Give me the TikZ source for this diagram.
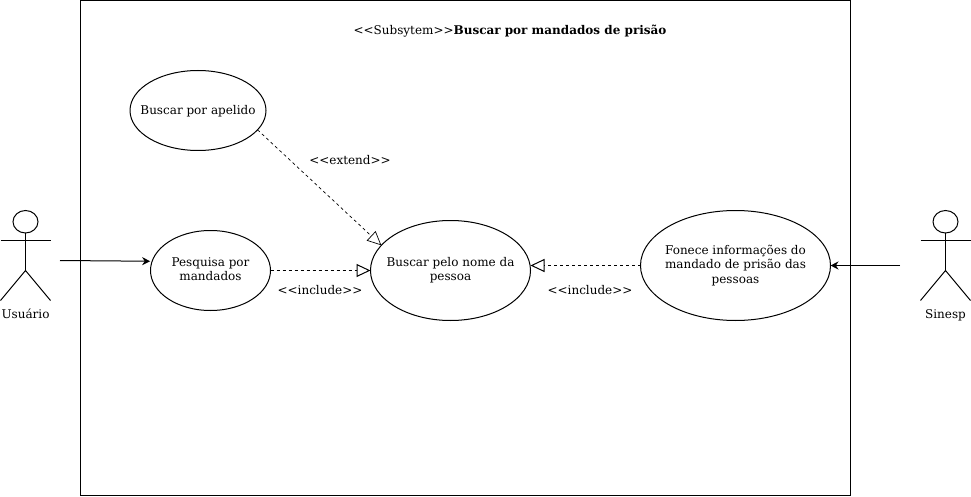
\documentclass[tikz,border=0pt]{standalone}
\usepackage{fontspec}
\setmainfont{DejaVu Serif}
\usetikzlibrary{arrows.meta,positioning,shapes.geometric}
\tikzset{
    caixaTexto/.style={align=center,
        execute at begin node={\rule{0pt}{12pt}},
        execute at end node={\rule[-3pt]{0pt}{3pt}}},
    usecase/.style={draw, ellipse, inner xsep=-40pt, inner ysep=-30pt, outer sep=0pt, caixaTexto},
    rotulo/.style={inner sep=0pt, caixaTexto},
    dep/.style={dash pattern=on 3pt off 3pt, -{Triangle[open,length=14pt,width=13pt]}},
    assoc/.style={-{Stealth[length=8pt,width=8pt]}},
    actor/.pic={
        \draw (0,-48.75) ellipse (12.5 and 11.25);
        \draw (-25,-30) -- (25,-30);
        \draw (0,-37.5) -- (0,0);
        \draw (-25,30) -- (0,0) -- (25,30);
    }
}

\begin{document}
\begin{tikzpicture}[x=1pt, y=-1pt, line width=1pt, font=\fontsize{12}{14.5}\selectfont]
    \useasboundingbox (0,0) rectangle (971,497);

    % Subsystem
    \draw (80.5,0.5) rectangle (850.5,495.5);
    \node[rotulo] (titulo) at (510,30) {<{}<Subsytem>{}>\textbf{Buscar por mandados de prisão}};

    % Use cases
    \node[usecase, minimum width=136pt, minimum height=80pt] (apelido) at (198,110.5) {Buscar por apelido};
    \node[usecase, minimum width=120pt, minimum height=80pt] (pesquisa) at (210.5,270.5) {Pesquisa por\\mandados};
    \node[usecase, minimum width=160pt, minimum height=100pt] (nome) at (450.5,270.5) {Buscar pelo nome da\\pessoa};
    \node[usecase, minimum width=190pt, minimum height=110pt] (fonece) at (735.5,265.5) {Fonece informações do\\mandado de prisão das\\pessoas};

    % Actors
    \pic at (25.5,270.5) {actor};
    \pic at (945.5,270.5) {actor};
    \node[rotulo] (usuario) at (25.5,314) {Usuário};
    \node[rotulo] (sinesp) at (945.5,314) {Sinesp};
    \coordinate (usuarioMao) at (60,260.5);
    \coordinate (sinespMao) at (900,265.5);

    % Connectors
    \draw[assoc, shorten >=2pt] (usuarioMao) -- (pesquisa.171);
    \draw[assoc] (sinespMao) -- (fonece.east);
    \draw[dep] (pesquisa.east) -- (nome.west);
    \draw[dep] (fonece.west) -- (nome.east |- fonece.west);
    \draw[dep, line width=0.7pt] (apelido.-18) -- (nome.160);

    \node[rotulo] (extend) at (350,160) {<{}<extend>{}>};
    \node[rotulo] (include1) at (320,290) {<{}<include>{}>};
    \node[rotulo] (include2) at (590,290) {<{}<include>{}>};
\end{tikzpicture}
\end{document}
